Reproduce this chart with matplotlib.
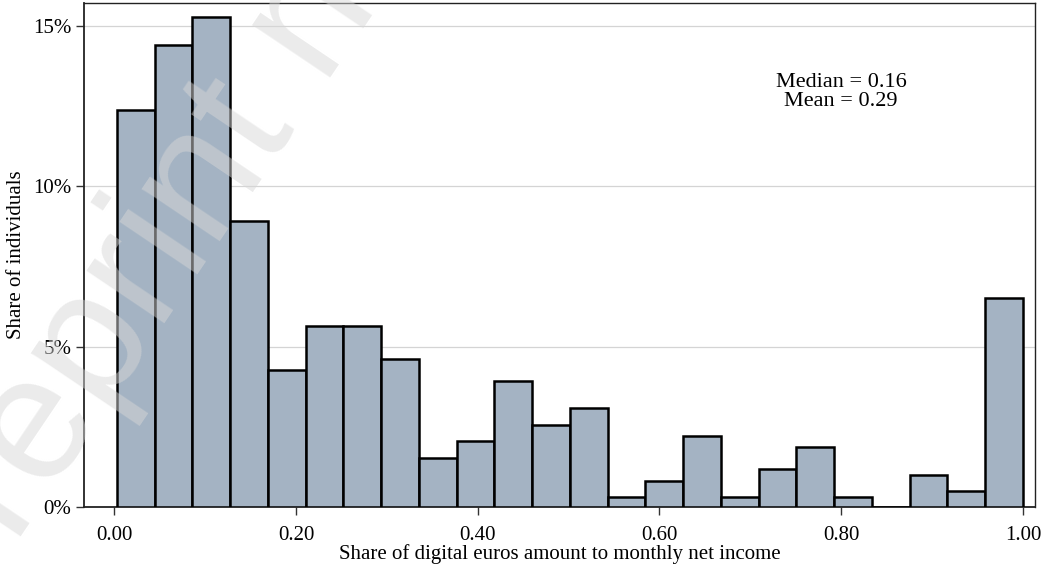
import matplotlib
matplotlib.use("Agg")
import matplotlib.pyplot as plt
from matplotlib.ticker import FuncFormatter
import numpy as np

# Histogram of the ratio of digital euro holdings to monthly net income
bin_lo = 0.003
bin_hi = 1.0
n_bins = 24
shares_pct = [12.36, 14.41, 15.28, 8.90, 4.26, 5.63, 5.63, 4.61,
              1.53, 2.05, 3.92, 2.55, 3.08, 0.31, 0.81, 2.21,
              0.31, 1.18, 1.87, 0.31, 0.00, 1.00, 0.50, 6.50]
x_ticks = [0.0, 0.2, 0.4, 0.6, 0.8, 1.0]
y_ticks = [0, 5, 10, 15]
median_val = 0.16
mean_val = 0.29

plt.rcParams['font.family'] = ['Liberation Serif', 'DejaVu Serif']

fig = plt.figure(figsize=(10.41, 5.70), dpi=100)
ax = fig.add_axes([0.0807, 0.1105, 0.9135, 0.884])

edges = np.linspace(bin_lo, bin_hi, n_bins + 1)
widths = np.diff(edges)
ax.bar(edges[:-1], shares_pct, width=widths, align='edge',
       color='#a4b3c3', edgecolor='black', linewidth=1.8, zorder=3)

ax.set_xlim(-0.0333, 1.0132)
ax.set_ylim(0, 15.7)
ax.set_xticks(x_ticks)
ax.xaxis.set_major_formatter(FuncFormatter(lambda v, p: f"{v:.2f}"))
ax.set_yticks(y_ticks)
ax.yaxis.set_major_formatter(FuncFormatter(lambda v, p: f"{v:.0f}%"))
ax.tick_params(axis='both', direction='out', length=6, width=1.0,
               labelsize=15, color='#333333')
ax.tick_params(axis='x', pad=8)
ax.tick_params(axis='y', pad=3)
ax.grid(axis='y', color='#d4d4d4', linewidth=0.9, zorder=0)
ax.set_axisbelow(True)

for side in ['left', 'bottom']:
    ax.spines[side].set_linewidth(1.3)
    ax.spines[side].set_color('#222222')
for side in ['top', 'right']:
    ax.spines[side].set_linewidth(1.0)
    ax.spines[side].set_color('#222222')

ax.set_xlabel('Share of digital euros amount to monthly net income',
              fontsize=15, labelpad=-1)
ax.set_ylabel('Share of individuals', fontsize=15, labelpad=5)

ax.text(0.796, 0.824, f"Median = {median_val:.2f}\nMean = {mean_val:.2f}",
        transform=ax.transAxes, ha='center', va='center', fontsize=16,
        linespacing=0.98)

# Light diagonal watermark over the figure
fig.text(-0.05, -0.13, "Preprint not peer reviewed", rotation=56,
         rotation_mode='anchor', fontsize=128, color='#d7d7d7', alpha=0.5,
         family='Liberation Sans', ha='left', va='baseline', zorder=10)

fig.savefig('out.png', dpi=100)
